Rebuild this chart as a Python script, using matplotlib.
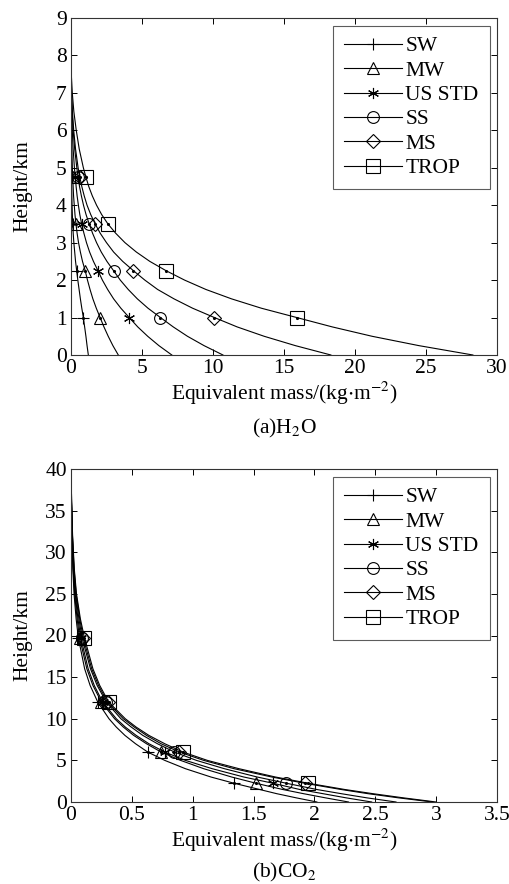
import matplotlib
matplotlib.use("Agg")
import matplotlib.pyplot as plt

plt.rcParams['font.family'] = ['Liberation Serif', 'DejaVu Serif']
plt.rcParams['mathtext.fontset'] = 'stix'

FS = 15.5

names = ['SW', 'MW', 'US STD', 'SS', 'MS', 'TROP']
markers = ['+', '^', (6, 2, 0), 'o', 'D', 's']
msizes = [9, 8.5, 8, 8.5, 7, 9.5]

# (a) H2O: equivalent mass above height (kg/m2)
h2o_height = [0, 0.25, 0.5, 0.75, 1, 1.25, 1.5, 1.75, 2, 2.25, 2.5, 2.75, 3, 3.25,
              3.5, 3.75, 4, 4.25, 4.5, 4.75, 5, 5.5, 6, 6.5, 7, 7.5, 8]
h2o_sw = [1.22, 1.13, 1.05, 0.96, 0.87, 0.76, 0.66, 0.57, 0.48, 0.40, 0.32, 0.26, 0.20, 0.155,
          0.12, 0.095, 0.075, 0.06, 0.05, 0.04, 0.03, 0.018, 0.01, 0.005, 0.002, 0.0005, 0]
h2o_mw = [3.33, 2.95, 2.62, 2.32, 2.05, 1.78, 1.54, 1.34, 1.16, 1.00, 0.81, 0.66, 0.53, 0.43,
          0.35, 0.28, 0.23, 0.18, 0.15, 0.12, 0.095, 0.06, 0.035, 0.018, 0.007, 0.002, 0]
h2o_us = [7.1, 6.19, 5.4, 4.7, 4.1, 3.51, 3.0, 2.58, 2.21, 1.90, 1.58, 1.31, 1.09, 0.91,
          0.75, 0.62, 0.52, 0.43, 0.36, 0.30, 0.24, 0.15, 0.09, 0.045, 0.02, 0.005, 0]
h2o_ss = [10.7, 9.37, 8.2, 7.2, 6.3, 5.42, 4.67, 4.03, 3.47, 3.0, 2.53, 2.13, 1.80, 1.52,
          1.28, 1.06, 0.88, 0.73, 0.60, 0.50, 0.41, 0.26, 0.15, 0.08, 0.03, 0.01, 0]
h2o_ms = [18.3, 15.8, 13.6, 11.7, 10.1, 8.56, 7.25, 6.1, 5.2, 4.4, 3.64, 3.0, 2.5, 2.06,
          1.70, 1.39, 1.13, 0.93, 0.76, 0.62, 0.50, 0.32, 0.19, 0.10, 0.04, 0.01, 0]
h2o_trop = [28.3, 24.5, 21.2, 18.4, 15.9, 13.4, 11.3, 9.5, 8.0, 6.7, 5.55, 4.6, 3.8, 3.15,
            2.6, 2.16, 1.8, 1.5, 1.25, 1.05, 0.87, 0.58, 0.37, 0.20, 0.09, 0.02, 0]
h2o_marks = [4, 9, 14, 19]

# (b) CO2
co2_height = [0, 0.5, 1, 1.5, 2.25, 3, 4, 5, 6, 7, 8, 9, 10, 12, 14, 16, 19.75,
              22, 25, 28, 32, 36, 40]
co2_sw = [2.02, 1.85, 1.69, 1.55, 1.34, 1.15, 0.94, 0.77, 0.63, 0.53, 0.443, 0.372, 0.312,
          0.22, 0.157, 0.112, 0.06, 0.042, 0.025, 0.015, 0.0075, 0.003, 0]
co2_mw = [2.28, 2.09, 1.91, 1.74, 1.52, 1.32, 1.09, 0.90, 0.74, 0.62, 0.515, 0.43, 0.358,
          0.25, 0.18, 0.13, 0.07, 0.05, 0.03, 0.018, 0.009, 0.0035, 0]
co2_us = [2.47, 2.26, 2.07, 1.88, 1.66, 1.42, 1.16, 0.94, 0.77, 0.64, 0.535, 0.446, 0.372,
          0.26, 0.191, 0.141, 0.08, 0.057, 0.034, 0.02, 0.01, 0.004, 0]
co2_ss = [2.67, 2.43, 2.22, 2.02, 1.77, 1.53, 1.26, 1.03, 0.85, 0.71, 0.59, 0.495, 0.41,
          0.29, 0.215, 0.16, 0.09, 0.065, 0.038, 0.023, 0.011, 0.004, 0]
co2_ms = [2.97, 2.69, 2.44, 2.22, 1.92, 1.65, 1.34, 1.09, 0.89, 0.74, 0.62, 0.52, 0.43,
          0.30, 0.226, 0.17, 0.10, 0.072, 0.042, 0.025, 0.012, 0.005, 0]
co2_trop = [3.00, 2.73, 2.48, 2.25, 1.95, 1.68, 1.38, 1.12, 0.92, 0.77, 0.64, 0.535, 0.446,
            0.31, 0.236, 0.18, 0.11, 0.077, 0.045, 0.027, 0.013, 0.005, 0]
co2_marks = [4, 8, 13, 16]

fig = plt.figure(figsize=(5.09, 8.84), dpi=100)
ax1 = fig.add_axes([0.1395, 1 - 355 / 884, 0.837, 337 / 884])
ax2 = fig.add_axes([0.1395, 1 - 802 / 884, 0.837, 333 / 884])


def draw(ax, height, series, marks):
    for name, vals, mk, ms in zip(names, series, markers, msizes):
        ax.plot(vals, height, color='black', lw=0.8, marker=mk, ms=ms,
                mfc='none', mec='black', mew=0.8, markevery=marks, label=name)
        ax.plot([vals[i] for i in marks], [height[i] for i in marks], '.',
                color='black', ms=2.5)
    ax.tick_params(direction='in', top=True, right=True, length=4, width=0.7,
                   labelsize=FS, pad=3)
    for s in ax.spines.values():
        s.set_linewidth(0.8)
        s.set_color('#333333')
    ax.set_ylabel('Height/km', fontsize=FS)
    ax.yaxis.set_label_coords(-0.09, 0.5)
    ax.set_xlabel('Equivalent mass/(kg$\\cdot$m$^{-2}$)', fontsize=FS, labelpad=1)
    leg = ax.legend(loc='upper right', fontsize=FS, frameon=True, fancybox=False,
                    handlelength=2.7, handletextpad=0.15, labelspacing=0.2,
                    borderpad=0.5, borderaxespad=0.35)
    leg.get_frame().set_edgecolor('#333333')
    leg.get_frame().set_linewidth(0.8)


draw(ax1, h2o_height, [h2o_sw, h2o_mw, h2o_us, h2o_ss, h2o_ms, h2o_trop], h2o_marks)
ax1.set_xlim(0, 30)
ax1.set_ylim(0, 9)
ax1.set_xticks(range(0, 31, 5))
ax1.set_yticks(range(0, 10))

draw(ax2, co2_height, [co2_sw, co2_mw, co2_us, co2_ss, co2_ms, co2_trop], co2_marks)
ax2.set_xlim(0, 3.5)
ax2.set_ylim(0, 40)
ax2.set_xticks([0, 0.5, 1, 1.5, 2, 2.5, 3, 3.5])
ax2.set_xticklabels(['0', '0.5', '1', '1.5', '2', '2.5', '3', '3.5'])
ax2.set_yticks(range(0, 41, 5))

fig.text(0.558, 1 - 428 / 884, '(a)H$_2$O', ha='center', va='center', fontsize=FS)
fig.text(0.558, 1 - 872 / 884, '(b)CO$_2$', ha='center', va='center', fontsize=FS)

fig.savefig('out.png', dpi=100)
